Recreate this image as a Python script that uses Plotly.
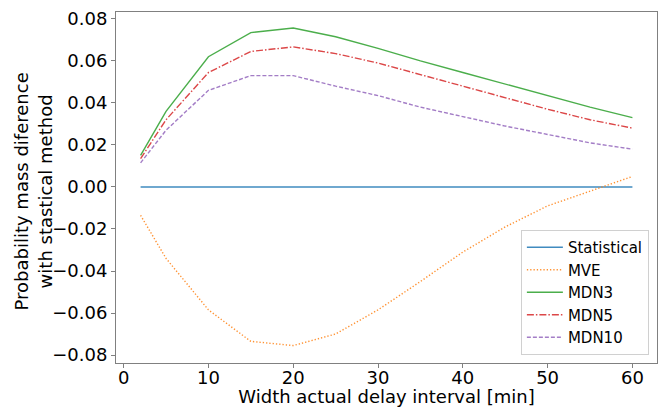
import plotly.graph_objects as go

x_vals = [2, 5, 10, 15, 20, 25, 30, 35, 40, 45, 50, 55, 60]
statistical = [0.0] * 13
mve = [-0.0135, -0.034, -0.0585, -0.0735, -0.0755, -0.070, -0.0585, -0.045, -0.031, -0.019, -0.009, -0.002, 0.005]
mdn3 = [0.015, 0.036, 0.062, 0.0735, 0.0757, 0.0715, 0.066, 0.060, 0.0545, 0.049, 0.0435, 0.038, 0.033]
mdn5 = [0.0135, 0.032, 0.0545, 0.0645, 0.0667, 0.0635, 0.059, 0.0535, 0.048, 0.0425, 0.037, 0.032, 0.028]
mdn10 = [0.0115, 0.027, 0.046, 0.053, 0.053, 0.048, 0.0435, 0.038, 0.0335, 0.029, 0.025, 0.021, 0.018]

series = [
    ("Statistical", statistical, "#1f77b4", "solid"),
    ("MVE", mve, "#ff7f0e", "1.3px,2px"),
    ("MDN3", mdn3, "#2ca02c", "solid"),
    ("MDN5", mdn5, "#d62728", "7px,2px,1.5px,2px"),
    ("MDN10", mdn10, "#9467bd", "4px,2px"),
]

fig = go.Figure()
for name, ys, color, dash in series:
    fig.add_trace(go.Scatter(
        x=x_vals, y=ys, name=name, mode="lines",
        line=dict(color=color, width=1.4, dash=dash),
        opacity=0.85,
    ))

font = "DejaVu Sans"
fig.update_layout(
    width=665, height=407,
    margin=dict(l=116, r=8, t=12, b=44),
    paper_bgcolor="white", plot_bgcolor="white",
    font=dict(family=font, color="black", size=18),
    showlegend=True,
    legend=dict(
        x=0.985, y=0.023, xanchor="right", yanchor="bottom",
        bgcolor="rgba(255,255,255,0.8)", bordercolor="#d0d0d0", borderwidth=1,
        font=dict(family=font, size=15, color="black"),
        tracegroupgap=0, itemwidth=36,
    ),
    xaxis=dict(
        range=[-0.9, 62.9], tickvals=[0, 10, 20, 30, 40, 50, 60],
        showgrid=False, zeroline=False, automargin=False,
        showline=True, linecolor="#808080", linewidth=1, mirror=True,
        ticks="outside", ticklen=4, tickcolor="#808080",
        tickfont=dict(size=18), ticklabelstandoff=-6,
        title=dict(text="Width actual delay interval [min]", font=dict(size=18), standoff=2),
    ),
    yaxis=dict(
        range=[-0.0838, 0.0833], tickvals=[-0.08, -0.06, -0.04, -0.02, 0, 0.02, 0.04, 0.06, 0.08],
        tickformat=".2f",
        showgrid=False, zeroline=False, automargin=False,
        showline=True, linecolor="#808080", linewidth=1, mirror=True,
        ticks="outside", ticklen=4, tickcolor="#808080",
        tickfont=dict(size=18),
    ),
    annotations=[dict(
        text="Probability mass diference<br>with stastical method",
        xref="paper", yref="paper", x=-0.1525, y=0.49,
        xanchor="center", yanchor="middle", textangle=-90,
        showarrow=False, font=dict(family=font, size=18, color="black"),
    )],
)

fig.write_html("out.html", config={"displayModeBar": False},
               post_script="document.body.style.margin='0px';")
